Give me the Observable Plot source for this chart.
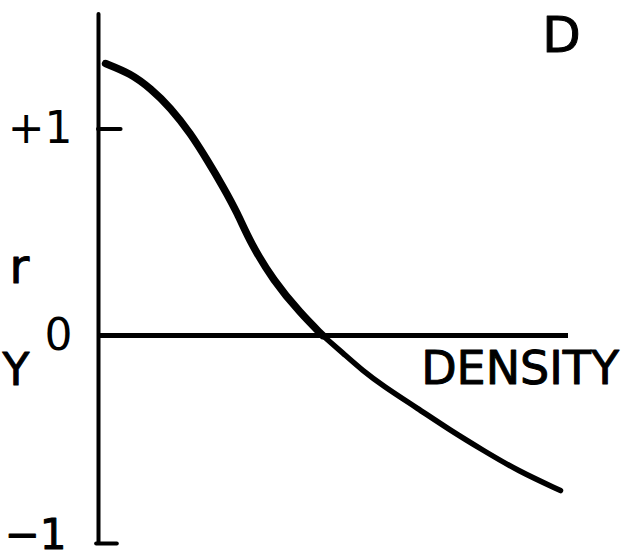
<!DOCTYPE html>
<html>
<head>
<meta charset="utf-8">
<script src="https://cdn.jsdelivr.net/npm/d3@7"></script>
<script src="https://cdn.jsdelivr.net/npm/@observablehq/plot@0.6"></script>
<style>
  html, body { margin: 0; padding: 0; background: #fff; }
  #chart svg { display: block; }
</style>
</head>
<body>
<div id="chart"></div>
<script>
// Density (relative units, 0 = origin, 1 = end of axis) and correlation r
const density = [0.015, 0.068, 0.111, 0.153, 0.196, 0.232, 0.266, 0.296, 0.323, 0.372, 0.430, 0.477, 0.521, 0.562, 0.606, 0.679, 0.749, 0.819, 0.891, 0.983];
const corr    = [1.317, 1.269, 1.196, 1.104, 0.978, 0.847, 0.717, 0.591, 0.450, 0.266, 0.107, 0.0, -0.087, -0.170, -0.245, -0.353, -0.460, -0.557, -0.654, -0.751];
const yTicks = [1, 0, -1];
const yTickLabels = ["+1", "0", "−1"];
const panelLabel = "D";
const xLabel = "DENSITY";
const leftLetters = ["r", "Y"];

const curve = density.map((d, i) => ({x: d, y: corr[i]}));
const split = 11; // thicker upper stroke, thinner lower stroke
const upper = curve.slice(0, split + 1);
const lower = curve.slice(split);
const yMin = -1.0073, yMax = 1.5545;
const font = "DejaVu Sans, sans-serif";

const chart = Plot.plot({
  width: 629,
  height: 559,
  marginLeft: 98,
  marginRight: 61,
  marginTop: 14,
  marginBottom: 16,
  style: {background: "#fff", fontFamily: font},
  x: {domain: [0, 1], axis: null},
  y: {domain: [yMin, yMax], axis: null},
  marks: [
    Plot.ruleX([0], {y1: yMin, y2: yMax, stroke: "#000", strokeWidth: 4, strokeLinecap: "round"}),
    Plot.ruleY([yMin], {x1: -0.004, x2: 0.04, stroke: "#000", strokeWidth: 4, strokeLinecap: "round"}),
    Plot.ruleY([1], {x1: 0, x2: 0.048, stroke: "#000", strokeWidth: 4, strokeLinecap: "round"}),
    Plot.ruleY([0], {x1: 0, x2: 1, stroke: "#000", strokeWidth: 5}),
    Plot.axisY(yTicks.slice(0, 2), {
      anchor: "left", tickSize: 0, tickPadding: 26,
      tickFormat: (d) => yTickLabels[yTicks.indexOf(d)],
      fontSize: 44, fill: "#000", stroke: "#000", strokeWidth: 1, label: null
    }),
    Plot.text([yTickLabels[2]], {frameAnchor: "left", y: yTicks[2], dx: -32, dy: -6, textAnchor: "end", text: (d) => d,
      fontSize: 42, fill: "#000", stroke: "#000", strokeWidth: 1}),
    Plot.line(upper, {x: "x", y: "y", curve: "basis", stroke: "#000", strokeWidth: 7.5, strokeLinecap: "round"}),
    Plot.line(lower, {x: "x", y: "y", curve: "basis", stroke: "#000", strokeWidth: 5.5, strokeLinecap: "round"}),
    Plot.text([panelLabel], {x: 0.985, y: 1.45, text: (d) => d, fontSize: 50, fill: "#000", stroke: "#000", strokeWidth: 1}),
    Plot.text([xLabel], {x: 0.897, y: -0.165, text: (d) => d, fontSize: 46, fill: "#000", stroke: "#000", strokeWidth: 1}),
    Plot.text([leftLetters[0]], {frameAnchor: "left", dx: -89, y: 0.33, text: (d) => d, fontSize: 48, fill: "#000", stroke: "#000", strokeWidth: 1}),
    Plot.text([leftLetters[1]], {frameAnchor: "left", dx: -96, y: -0.17, text: (d) => d, fontSize: 44, fill: "#000", stroke: "#000", strokeWidth: 1})
  ]
});
document.getElementById("chart").appendChild(chart);
</script>
</body>
</html>
